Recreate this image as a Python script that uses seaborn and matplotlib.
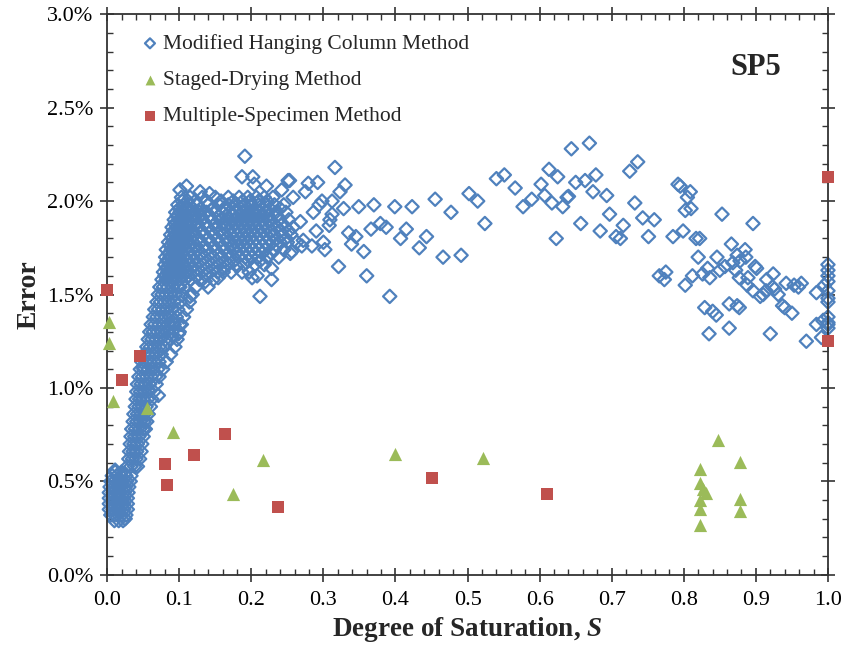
import numpy as np
import pandas as pd
import matplotlib
matplotlib.use("Agg")
import matplotlib.pyplot as plt
from matplotlib.ticker import MultipleLocator, FuncFormatter
import seaborn as sns

# ---------------- data (Error in %) ----------------
# Dense low blob and rising band of the modified hanging column method: rows of equal error
blob_err = [0.29, 0.32, 0.35, 0.38, 0.41, 0.44, 0.47, 0.50, 0.53, 0.55]
blob_s = [
    [.010, .016, .022],
    [.005, .010, .015, .020, .026],
    [.003, .008, .013, .018, .023, .028],
    [.003, .008, .013, .018, .023, .028],
    [.003, .008, .013, .018, .023, .028],
    [.003, .008, .013, .018, .024, .029],
    [.004, .009, .014, .019, .025, .030],
    [.005, .010, .015, .021, .027, .032],
    [.007, .013, .019, .026, .033],
    [.011, .020],
]
band_err = [0.58, 0.62, 0.66, 0.70, 0.74, 0.78, 0.82, 0.86, 0.90, 0.94, 0.98, 1.02, 1.06,
            1.10, 1.14, 1.18, 1.22, 1.26, 1.30, 1.34, 1.38, 1.42, 1.46, 1.50, 1.54]
band_s = [
    [.028, .033, .038, .042],
    [.030, .035, .040, .045],
    [.031, .036, .041, .047],
    [.032, .037, .042, .048],
    [.033, .038, .044, .050],
    [.034, .039, .045, .050, .053],
    [.036, .041, .046, .051, .055],
    [.037, .042, .047, .052, .057],
    [.039, .044, .049, .054, .060],
    [.040, .045, .050, .056, .062],
    [.041, .046, .052, .058, .065],
    [.042, .047, .053, .059, .068],
    [.044, .049, .055, .061, .067, .072],
    [.046, .051, .057, .063, .070, .077],
    [.048, .053, .059, .065, .072, .082],
    [.051, .056, .062, .068, .075, .088],
    [.055, .060, .066, .072, .079, .094],
    [.057, .062, .068, .074, .081, .088, .097],
    [.059, .064, .070, .076, .083, .090, .100],
    [.061, .066, .072, .078, .085, .093, .103],
    [.064, .069, .075, .081, .088, .096, .106],
    [.066, .071, .077, .083, .090, .098, .110],
    [.069, .074, .080, .086, .093, .101, .114],
    [.071, .076, .082, .088, .095, .104, .118],
    [.073, .078, .084, .091, .098, .107, .123],
]
cloud_err = [1.58, 1.60, 1.62, 1.64, 1.66, 1.68, 1.70, 1.72, 1.74, 1.76, 1.78, 1.80,
             1.82, 1.84, 1.86, 1.88, 1.90, 1.92, 1.94, 1.96, 1.98, 2.00, 2.02]
cloud_s = [
    [.076, .082, .088, .094, .100, .107, .116, .128, .147],
    [.080, .086, .092, .099, .106, .113, .124, .137],
    [.078, .084, .090, .096, .103, .110, .120, .131, .142, .153, .172, .197],
    [.082, .088, .094, .101, .108, .116, .126, .138, .150, .162],
    [.080, .086, .092, .098, .105, .113, .122, .133, .145, .156, .168, .190, .205, .218],
    [.083, .090, .096, .103, .110, .119, .129, .140, .152, .164, .176, .196, .212],
    [.081, .087, .094, .100, .107, .115, .124, .135, .147, .158, .170, .182, .192, .200, .209, .222, .238],
    [.085, .091, .098, .104, .112, .121, .131, .143, .155, .167, .179, .188, .197, .205, .215, .228],
    [.082, .089, .096, .102, .109, .117, .126, .138, .150, .163, .175, .184, .193, .201, .210, .219, .232, .245],
    [.087, .093, .100, .107, .114, .124, .135, .148, .160, .172, .181, .190, .198, .206, .215, .224, .236],
    [.085, .091, .097, .104, .111, .119, .130, .143, .155, .167, .178, .186, .194, .202, .211, .220, .229, .240, .250],
    [.090, .096, .103, .110, .117, .127, .140, .152, .165, .175, .184, .192, .199, .207, .216, .225, .236, .248],
    [.088, .094, .100, .106, .113, .121, .134, .148, .160, .171, .180, .188, .195, .203, .212, .221, .231, .243, .255],
    [.092, .098, .105, .112, .119, .131, .144, .156, .168, .177, .185, .193, .201, .209, .218, .228, .240, .252],
    [.090, .096, .102, .108, .115, .127, .139, .151, .162, .173, .181, .189, .197, .205, .214, .224, .236, .247, .258],
    [.094, .101, .108, .116, .125, .136, .150, .160, .170, .179, .187, .195, .203, .211, .220, .231, .243],
    [.093, .099, .105, .112, .122, .132, .145, .157, .166, .176, .183, .191, .199, .207, .216, .226, .238, .252],
    [.097, .104, .111, .120, .130, .142, .155, .165, .174, .182, .190, .198, .206, .214, .224, .236],
    [.095, .101, .108, .116, .128, .138, .150, .160, .170, .178, .188, .196, .204, .212, .222, .234, .248],
    [.100, .108, .118, .130, .147, .162, .175, .185, .195, .205, .215, .226, .240],
    [.098, .106, .114, .125, .140, .155, .168, .180, .190, .200, .210, .220, .232, .245],
    [.104, .112, .122, .138, .158, .175, .188, .198, .210, .222],
    [.103, .115, .132, .150, .168, .183, .195, .207, .218, .230],
]
# Scattered individual points of the modified hanging column method
mhc_s = [0.025, 0.011,
         0.191, 0.187, 0.202, 0.251, 0.101, 0.110, 0.129, 0.142, 0.204, 0.221, 0.242, 0.258,
         0.268, 0.272, 0.256, 0.228, 0.228, 0.212, 0.201, 0.208, 0.187, 0.180, 0.161, 0.154,
         0.140, 0.136, 0.115, 0.113, 0.101, 0.099, 0.101, 0.092, 0.090, 0.074, 0.064, 0.050,
         0.071, 0.057,
         0.316, 0.253, 0.279, 0.292, 0.275, 0.330, 0.323, 0.312, 0.294, 0.286, 0.328, 0.312,
         0.349, 0.370, 0.399, 0.423, 0.455, 0.477, 0.308, 0.335, 0.345, 0.339, 0.356, 0.366,
         0.379, 0.387, 0.415, 0.407, 0.443, 0.433, 0.466, 0.491, 0.321, 0.360, 0.392, 0.302,
         0.284, 0.290, 0.270, 0.254, 0.263, 0.300, 0.298, 0.309,
         0.502, 0.514, 0.524, 0.540, 0.551, 0.566, 0.577, 0.589, 0.602, 0.607, 0.613, 0.625,
         0.617, 0.632, 0.638, 0.640, 0.644, 0.650, 0.663, 0.669, 0.678, 0.674, 0.693, 0.657,
         0.623, 0.697, 0.684, 0.716, 0.706, 0.712, 0.725, 0.736, 0.732, 0.743, 0.751,
         0.759, 0.792, 0.795, 0.809, 0.805, 0.802, 0.810, 0.853, 0.896, 0.785, 0.799, 0.817,
         0.822, 0.820, 0.846, 0.866, 0.885, 0.874, 0.886, 0.868, 0.878, 0.857, 0.850, 0.833,
         0.826, 0.836, 0.812, 0.872, 0.899, 0.901, 0.877, 0.889, 0.766, 0.775, 0.773, 0.802,
         0.888, 0.896, 0.906, 0.910, 0.914, 0.915, 0.924, 0.923, 0.931, 0.926, 0.942, 0.953,
         0.963, 0.959, 0.984, 0.829, 0.840, 0.845, 0.863, 0.874, 0.877, 0.937, 0.940, 0.950,
         0.835, 0.863, 0.920, 0.984, 0.970, 0.991,
         1.0, 1.0, 1.0, 1.0, 1.0, 1.0, 1.0, 1.0, 1.0, 1.0, 1.0, 0.995, 0.993]
mhc_e = [0.30, 0.56,
         2.24, 2.13, 2.13, 2.11, 2.06, 2.08, 2.05, 2.04, 2.09, 2.08, 2.06, 2.02,
         1.89, 1.79, 1.73, 1.64, 1.58, 1.49, 1.59, 1.60, 1.62, 1.65, 1.62, 1.59,
         1.54, 1.57, 1.49, 1.60, 1.54, 1.29, 1.34, 1.35, 1.28, 1.21, 1.30, 1.11,
         0.96, 0.99,
         2.18, 2.11, 2.095, 2.10, 2.05, 2.086, 2.05, 2.00, 1.98, 1.94, 1.96, 1.93,
         1.97, 1.98, 1.97, 1.97, 2.01, 1.94, 1.87, 1.83, 1.81, 1.77, 1.73, 1.85,
         1.88, 1.86, 1.85, 1.80, 1.81, 1.75, 1.70, 1.71, 1.65, 1.60, 1.49, 1.74,
         1.76, 1.84, 1.76, 1.72, 1.78, 1.78, 2.00, 1.90,
         2.04, 2.00, 1.88, 2.12, 2.14, 2.07, 1.97, 2.01, 2.09, 2.03, 2.17, 2.13,
         1.99, 1.97, 2.02, 2.025, 2.28, 2.10, 2.11, 2.31, 2.14, 2.05, 2.03, 1.88,
         1.80, 1.93, 1.84, 1.87, 1.81, 1.80, 2.16, 2.21, 1.99, 1.91, 1.81,
         1.90, 2.09, 2.08, 2.05, 2.02, 1.95, 1.96, 1.93, 1.88, 1.81, 1.84, 1.80,
         1.80, 1.70, 1.70, 1.77, 1.74, 1.71, 1.70, 1.67, 1.68, 1.65, 1.63, 1.64,
         1.61, 1.59, 1.60, 1.63, 1.65, 1.64, 1.59, 1.59, 1.60, 1.62, 1.58, 1.55,
         1.55, 1.52, 1.49, 1.50, 1.52, 1.58, 1.61, 1.54, 1.50, 1.53, 1.56, 1.55,
         1.56, 1.54, 1.51, 1.43, 1.41, 1.39, 1.45, 1.44, 1.43, 1.44, 1.43, 1.40,
         1.29, 1.32, 1.29, 1.34, 1.25, 1.27,
         1.66, 1.63, 1.60, 1.57, 1.52, 1.48, 1.46, 1.38, 1.35, 1.34, 1.32, 1.55, 1.36]

sd_s = [0.003, 0.002, 0.008, 0.055, 0.092, 0.175, 0.216, 0.400, 0.521, 0.822, 0.822,
        0.827, 0.831, 0.822, 0.822, 0.822, 0.847, 0.878, 0.878, 0.878]
sd_e = [1.355, 1.24, 0.93, 0.89, 0.765, 0.43, 0.615, 0.647, 0.624, 0.565, 0.49,
        0.46, 0.44, 0.40, 0.35, 0.265, 0.72, 0.606, 0.405, 0.342]

ms_s = [0.000, 0.021, 0.045, 0.080, 0.083, 0.121, 0.164, 0.237, 0.450, 0.610, 1.0, 1.0]
ms_e = [1.524, 1.043, 1.173, 0.594, 0.481, 0.642, 0.754, 0.365, 0.52, 0.433, 2.13, 1.25]

labels = ["Modified Hanging Column Method", "Staged-Drying Method", "Multiple-Specimen Method"]

# ---------------- assemble ----------------
def flatten(errs, rows):
    xs, ys = [], []
    for e, row in zip(errs, rows):
        for s in row:
            xs.append(s)
            ys.append(e)
    return xs, ys

mx, my = [], []
for errs, rows in [(blob_err, blob_s), (band_err, band_s), (cloud_err, cloud_s)]:
    a, b = flatten(errs, rows)
    mx += a
    my += b
mx += mhc_s
my += mhc_e
df_mhc = pd.DataFrame({"S": mx, "Error": my})
df_sd = pd.DataFrame({"S": sd_s, "Error": sd_e})
df_ms = pd.DataFrame({"S": ms_s, "Error": ms_e})

# ---------------- style ----------------
sns.set_style("ticks")
plt.rcParams["font.family"] = ["Liberation Serif", "DejaVu Serif"]
plt.rcParams["mathtext.fontset"] = "custom"
plt.rcParams["mathtext.rm"] = "Liberation Serif"
plt.rcParams["mathtext.bf"] = "Liberation Serif:bold"
plt.rcParams["mathtext.it"] = "Liberation Serif:italic"
plt.rcParams["mathtext.bfit"] = "Liberation Serif:bold:italic"

blue = "#4F81BD"
green = "#9BBB59"
red = "#C0504D"

fig = plt.figure(figsize=(8.44, 6.48), dpi=100)
ax = fig.add_axes([0.127, 0.113, 0.854, 0.865])

sns.scatterplot(data=df_mhc, x="S", y="Error", ax=ax, marker="D", s=46,
                color=blue, facecolor="none", edgecolor=blue, linewidth=1.6,
                label=labels[0], zorder=2, clip_on=False)
sns.scatterplot(data=df_sd, x="S", y="Error", ax=ax, marker="^", s=90,
                color=green, edgecolor=green, linewidth=0, label=labels[1], zorder=3,
                clip_on=False)
sns.scatterplot(data=df_ms, x="S", y="Error", ax=ax, marker="s", s=76,
                color=red, edgecolor=red, linewidth=0, label=labels[2], zorder=3,
                clip_on=False)

ax.set_xlim(0, 1.0)
ax.set_ylim(0, 3.0)
ax.xaxis.set_major_locator(MultipleLocator(0.1))
ax.xaxis.set_minor_locator(MultipleLocator(0.02))
ax.yaxis.set_major_locator(MultipleLocator(0.5))
ax.yaxis.set_minor_locator(MultipleLocator(0.1))
ax.xaxis.set_major_formatter(FuncFormatter(lambda v, p: f"{v:.1f}"))
ax.yaxis.set_major_formatter(FuncFormatter(lambda v, p: f"{v:.1f}%"))
ax.tick_params(which="major", direction="inout", length=10, width=1.2, colors="#333333",
               labelcolor="black", labelsize=16, top=True, right=True)
ax.tick_params(which="minor", direction="in", length=4, width=1.0, colors="#333333",
               top=True, right=True)
ax.tick_params(axis="x", which="major", pad=7)
ax.tick_params(axis="y", which="major", pad=5)
for sp in ax.spines.values():
    sp.set_visible(True)
    sp.set_linewidth(1.3)
    sp.set_color("#333333")

ax.set_xlabel(r"Degree of Saturation, $\mathbfit{S}$", fontsize=19.5, fontweight="bold", labelpad=3)
ax.set_ylabel("Error", fontsize=20, fontweight="bold", labelpad=4)

ax.text(0.90, 0.905, "SP5", transform=ax.transAxes, fontsize=22, fontweight="bold",
        ha="center", va="center")

leg = ax.legend(loc="upper left", bbox_to_anchor=(0.025, 0.988), frameon=False,
                fontsize=15.5, handletextpad=0.05, labelspacing=0.75, borderaxespad=0.2,
                handlelength=1.1, markerscale=0.75)

fig.savefig("out.png", dpi=100)
